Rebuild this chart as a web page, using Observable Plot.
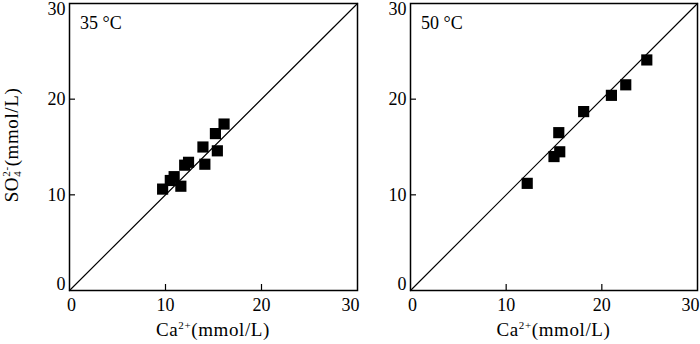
<!DOCTYPE html>
<html>
<head>
<meta charset="utf-8">
<script src="https://cdn.jsdelivr.net/npm/d3@7"></script>
<script src="https://cdn.jsdelivr.net/npm/@observablehq/plot@0.6"></script>
<style>
  html, body { margin: 0; padding: 0; background: #fff; }
  #wrap { position: relative; width: 700px; height: 344px; overflow: hidden; }
  #left, #right { position: absolute; top: 0; }
  #left { left: 0; }
  #right { left: 360px; }
  svg { overflow: visible; }
</style>
</head>
<body>
<div id="wrap"><div id="left"></div><div id="right"></div></div>
<script>
// Data
const ca35 = [9.7, 10.5, 10.9, 11.6, 12.0, 12.4, 13.9, 14.1, 15.2, 15.4, 16.1];
const so35 = [10.6, 11.5, 11.9, 10.9, 13.1, 13.4, 15.0, 13.2, 16.4, 14.6, 17.4];
const ca50 = [12.2, 15.0, 15.6, 15.5, 18.1, 21.0, 22.5, 24.7];
const so50 = [11.2, 14.0, 14.5, 16.5, 18.7, 20.4, 21.5, 24.1];
const midTicks = [10, 20];
const lowTick = [0];
const highTick = [30];
const diag = [0, 30];
const panelLabels = ["35 °C", "50 °C"];

const FONT = "'Liberation Serif', 'Times New Roman', serif";

function panel(ca, so, label, width, marginLeft, showYLabel) {
  const pts = ca.map((c, i) => ({ca: c, so: so[i]}));
  const ax = {label: null, stroke: "#000", strokeWidth: 1.2};
  const svg = Plot.plot({
    width, height: 344,
    marginLeft, marginRight: 3, marginTop: 3, marginBottom: 54,
    style: {fontFamily: FONT, fontSize: "18px", color: "#000", background: "transparent", overflow: "visible"},
    x: {domain: [0, 30]},
    y: {domain: [0, 30]},
    marks: [
      Plot.line(diag, {x: d => d, y: d => d, stroke: "#000", strokeWidth: 1.2}),
      Plot.dot(pts, {x: "ca", y: "so", symbol: "square", fill: "#000", r: 6.3}),
      Plot.axisX({...ax, ticks: midTicks, tickSize: -6, tickPadding: 14}),
      Plot.axisX({...ax, ticks: lowTick, tickSize: 0, tickPadding: 8, dx: 2}),
      Plot.axisX({...ax, ticks: highTick, tickSize: 0, tickPadding: 8, dx: -7}),
      Plot.axisY({...ax, ticks: midTicks, tickSize: -6, tickPadding: 10}),
      Plot.axisY({...ax, ticks: lowTick, tickSize: 0, tickPadding: 4, dy: -6}),
      Plot.axisY({...ax, ticks: highTick, tickSize: 0, tickPadding: 4, dy: 6}),
      Plot.frame({stroke: "#000", strokeWidth: 1.5})
    ]
  });
  const s = d3.select(svg);
  // panel label
  s.append("text")
    .attr("x", marginLeft + 11).attr("y", 29)
    .attr("text-anchor", "start")
    .attr("font-family", FONT).attr("font-size", 18).attr("fill", "#000")
    .text(label);
  // x axis title
  const cx = marginLeft + (width - marginLeft - 3) / 2;
  const xt = s.append("text")
    .attr("x", cx).attr("y", 336)
    .attr("text-anchor", "middle")
    .attr("letter-spacing", 0.6)
    .attr("font-family", FONT).attr("font-size", 19).attr("fill", "#000");
  xt.append("tspan").text("Ca");
  xt.append("tspan").attr("dy", -7).attr("font-size", 11).text("2+");
  xt.append("tspan").attr("dy", 7).text("(mmol/L)");
  if (showYLabel) {
    const yt = s.append("text")
      .attr("transform", "translate(18,145) rotate(-90)")
      .attr("text-anchor", "middle")
      .attr("letter-spacing", 0.6)
      .attr("font-family", FONT).attr("font-size", 19).attr("fill", "#000");
    yt.append("tspan").text("SO");
    yt.append("tspan").attr("dy", 3).attr("font-size", 11).text("4");
    yt.append("tspan").attr("dx", -6).attr("dy", -11).attr("font-size", 11).text("2-");
    yt.append("tspan").attr("dy", 8).text("(mmol/L)");
  }
  return svg;
}

document.getElementById("left").appendChild(panel(ca35, so35, panelLabels[0], 360, 69, true));
document.getElementById("right").appendChild(panel(ca50, so50, panelLabels[1], 340, 50, false));
</script>
</body>
</html>
